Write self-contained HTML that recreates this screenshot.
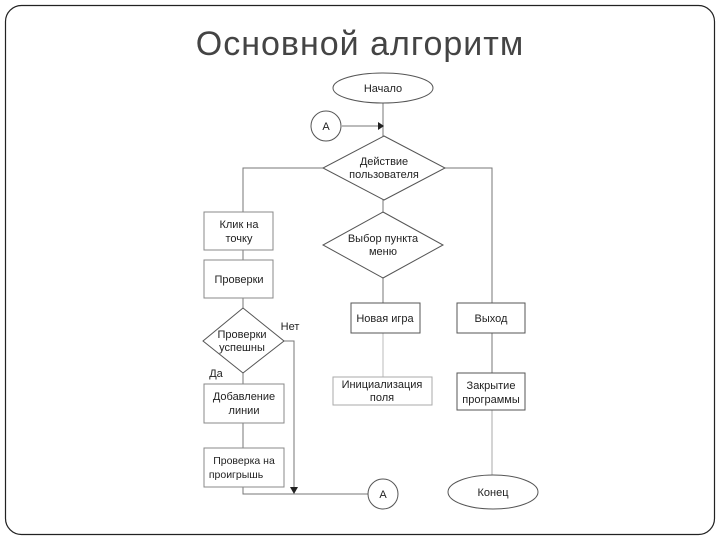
<!DOCTYPE html>
<html><head><meta charset="utf-8"><style>
html,body{margin:0;padding:0;background:#fff;}
svg{display:block;}
</style></head><body>
<svg width="720" height="540" viewBox="0 0 720 540" xmlns="http://www.w3.org/2000/svg" font-family="Liberation Sans, sans-serif">
<rect x="5.5" y="5.5" width="709" height="529" rx="16" fill="#fff" stroke="#222" stroke-width="1.2"/>
<text x="360" y="55" text-anchor="middle" font-size="34" fill="#444" letter-spacing="1">Основной алгоритм</text>
<g stroke="#777" stroke-width="1" fill="none">
<line x1="383" y1="103" x2="383" y2="136"/>
<line x1="342" y1="126" x2="378" y2="126"/>
<polyline points="323,168 243,168 243,212"/>
<polyline points="445,168 492,168 492,303"/>
<line x1="383" y1="200" x2="383" y2="212"/>
<line x1="383" y1="278" x2="383" y2="303"/>
<line x1="243" y1="250" x2="243" y2="260"/>
<line x1="243" y1="298" x2="243" y2="308"/>
<line x1="243" y1="373" x2="243" y2="384"/>
<line x1="243" y1="423" x2="243" y2="448"/>
<polyline points="243,487 243,494 368,494"/>
<polyline points="284,341 294,341 294,489"/>
<line x1="383" y1="333" x2="383" y2="377" stroke="#bbb"/>
<line x1="492" y1="333" x2="492" y2="373"/>
<line x1="492" y1="410" x2="492" y2="475" stroke="#aaa"/>
</g>
<polygon points="378,122 384,126 378,130" fill="#222"/>
<polygon points="290,487 298,487 294,494" fill="#222"/>
<g stroke="#555" stroke-width="1" fill="#fff">
<ellipse cx="383" cy="88" rx="50" ry="15"/>
<circle cx="326" cy="126" r="15"/>
<polygon points="384,136 445,168 384,200 323,168"/>
<polygon points="383,212 443,245 383,278 323,245"/>
<rect x="204" y="212" width="69" height="38" stroke="#888"/>
<rect x="204" y="260" width="69" height="38" stroke="#888"/>
<rect x="351" y="303" width="69" height="30"/>
<rect x="457" y="303" width="68" height="30"/>
<polygon points="243,308 284,341 243,373 203,341"/>
<rect x="204" y="384" width="80" height="39" stroke="#888"/>
<rect x="204" y="448" width="80" height="39" stroke="#888"/>
<circle cx="383" cy="494" r="15"/>
<rect x="333" y="377" width="99" height="28" stroke="#aaa"/>
<rect x="457" y="373" width="68" height="37"/>
<ellipse cx="493" cy="492" rx="45" ry="17"/>
</g>
<g font-size="11" fill="#222" text-anchor="middle">
<text x="383" y="92">Начало</text>
<text x="326" y="130">A</text>
<text x="384" y="165">Действие</text>
<text x="384" y="178">пользователя</text>
<text x="383" y="242">Выбор пункта</text>
<text x="383" y="255">меню</text>
<text x="239" y="228">Клик на</text>
<text x="239" y="242">точку</text>
<text x="239" y="283">Проверки</text>
<text x="385" y="322">Новая игра</text>
<text x="491" y="322">Выход</text>
<text x="242" y="338">Проверки</text>
<text x="242" y="351">успешны</text>
<text x="290" y="330">Нет</text>
<text x="216" y="377">Да</text>
<text x="244" y="400">Добавление</text>
<text x="244" y="414">линии</text>
<text x="244" y="464" font-size="10.5">Проверка на</text>
<text x="236" y="478" font-size="10.5">проигрышь</text>
<text x="383" y="498">A</text>
<text x="382" y="388">Инициализация</text>
<text x="382" y="401">поля</text>
<text x="491" y="389">Закрытие</text>
<text x="491" y="403">программы</text>
<text x="493" y="496">Конец</text>
</g>
</svg>
</body></html>
